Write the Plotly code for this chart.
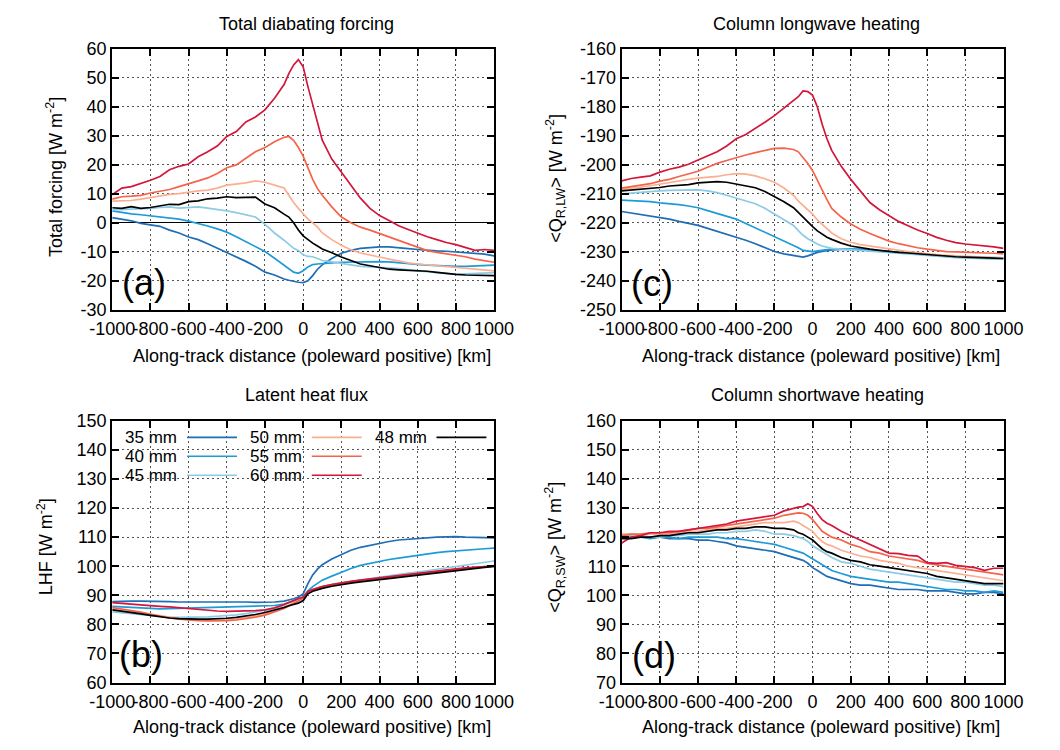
import plotly.graph_objects as go

# ---------------- data ----------------
X_KM = [-1000, -950, -900, -850, -800, -750, -700, -650, -600, -550, -500, -450, -400, -350, -300,
        -250, -200, -150, -100, -75, -50, -25, 0, 25, 50, 75, 100, 150, 200, 250, 300, 350, 400,
        450, 500, 550, 600, 650, 700, 750, 800, 850, 900, 950, 1000]

SERIES = ["35 mm", "40 mm", "45 mm", "50 mm", "55 mm", "60 mm", "48 mm"]
COLORS = ["#1f6db5", "#1e9bd6", "#8ccbe6", "#fcae91", "#f4634a", "#d2163c", "#000000"]

X_TICKS = [-1000, -800, -600, -400, -200, 0, 200, 400, 600, 800, 1000]
X_TICK_LABELS = ["-1000", "-800", "-600", "-400", "-200", "0", "200", "400", "600", "800", "1000"]

# (a) Total diabatic forcing
TOT_35 = [1.8, 1.2, 0.7, -0.2, -0.6, -1.2, -2.5, -3.5, -4.9, -5.8, -7.2, -8.7, -10.2, -11.8, -13.3, -15, -17, -18, -19.4,
          -19.8, -20.2, -20.5, -20.6, -20, -18.2, -16,
          -14.5, -12.3, -10.5, -9.5, -8.8, -8.5, -8.3, -8.3, -8.5, -8.9, -9.2, -9.5, -9.7, -9.8, -10, -10.2, -10.5, -10.8, -11.4]
TOT_40 = [4.1, 3.5, 3.1, 2.8, 2.4, 2.2, 1.8, 1.3, 0.6, -0.2, -1.1, -2.1, -3.2, -4.8, -6.5, -8.2, -9.9, -12.2, -14.6,
          -15.8, -17, -17.4, -16.5, -15.2, -14.4, -14.2,
          -14, -13.8, -13.6, -13.5, -13.5, -13.4, -13.4, -13.5, -13.7, -14, -14.3, -14.6, -14.8, -15, -15, -15, -14.9, -14.7, -14.6]
TOT_45 = [4.5, 4.6, 4.8, 5, 5, 5.3, 5.5, 5.1, 5.2, 5.5, 5.1, 4.7, 4.1, 3.5, 2.8, 2, -0.5, -3.5, -6,
          -7.5, -8.8, -9.5, -11, -11.6, -11.7, -12.3,
          -13, -13.5, -14, -14.5, -15, -15.2, -15.4, -15.5, -15.8, -16.2, -16.5, -16.8, -17.2, -17.5, -17.8, -17.6, -17.4, -17.2, -17.2]
TOT_50 = [7.5, 7.6, 7.7, 8.2, 8.8, 9.2, 9.8, 10.1, 10.6, 11, 11.3, 12, 13, 13.4, 13.8, 14.5, 14, 13, 12,
          9.5, 7, 5, 3, 1.3, 0, -1.5,
          -3.5, -5.8, -7.7, -9.3, -10.4, -11.2, -11.8, -12.5, -13.2, -13.8, -14.2, -14.5, -14.8, -15.1, -15.4, -15.7, -16, -16.3, -16.6]
TOT_55 = [8.2, 9, 9.2, 9.5, 10.3, 11, 11.5, 12.5, 13.6, 14.5, 15.5, 17, 19, 20, 22.3, 24.5, 26, 28, 29.5,
          29.8, 28.5, 26, 23, 19, 15, 11.8,
          9.5, 5.5, 2, 0, -1.5, -2.5, -3.7, -5, -6.2, -7.3, -8.6, -9.6, -10.2, -10.7, -11.1, -11.7, -12.5, -13, -13.6]
TOT_60 = [9.7, 12, 12.5, 13.5, 14.7, 16, 18.3, 19.5, 20.3, 22.8, 24.5, 26.5, 29.8, 31.5, 34.8, 36.5, 39, 43, 47.7,
          51.5, 54.5, 56.3, 53.8, 47, 40.5, 34,
          28.5, 22, 17.5, 13, 8.5, 5, 2.5, 0.8, -1, -2.3, -3.6, -4.8, -5.8, -6.8, -7.5, -8.5, -9.5, -9.2, -9.5]
TOT_48 = [5.2, 5, 5.6, 5, 5.3, 5.8, 6.4, 6.3, 7.3, 7.6, 8.3, 8.5, 9, 8.7, 8.7, 8.9, 6.5, 5.2, 3,
          2, 0, -2.5, -4.5, -5.8, -7, -8,
          -9, -10.3, -11.8, -13, -14.2, -14.8, -15.4, -16, -16.2, -16.3, -16.5, -16.7, -17.1, -17.5, -17.8, -18, -18.1, -18, -18.2]

# (b) Latent heat flux
LHF_35 = [87.8, 88, 88, 88, 88, 87.9, 87.8, 87.7, 87.7, 87.8, 87.8, 87.9, 87.9, 87.8, 87.7, 87.6, 87.6, 87.7, 88,
          88.3, 88.8, 89.4, 90.5, 94, 97, 99,
          100.5, 102.5, 104, 105.5, 106.5, 107.2, 108, 108.5, 109, 109.3, 109.5, 109.8, 110, 110.1, 110.2, 110, 110, 109.8, 109.7]
LHF_40 = [86.2, 86, 85.7, 85.5, 85.3, 85.3, 85.4, 85.5, 85.6, 85.6, 85.7, 85.8, 85.9, 86, 86.1, 86.2, 86.3, 86.5, 87,
          87.5, 88, 88.6, 89.5, 91.5, 93, 94.2,
          95.2, 96.6, 98, 99.2, 100.3, 101, 101.7, 102.3, 102.8, 103.3, 103.8, 104.3, 104.7, 105, 105.3, 105.5, 105.8, 106, 106.2]
LHF_45 = [84.3, 84, 83.7, 83.3, 83, 82.7, 82.5, 82.4, 82.4, 82.5, 82.6, 82.8, 83, 83.3, 83.7, 84.2, 84.8, 85.4, 86,
          86.5, 87, 87.4, 88, 90.5, 92, 92.5,
          93, 93.8, 94.3, 94.8, 95.2, 95.7, 96.2, 96.7, 97.2, 97.6, 98, 98.5, 99, 99.5, 100, 100.5, 101, 101.4, 101.8]
LHF_50 = [85.5, 85, 84.5, 84, 83.3, 82.8, 82.3, 82, 81.8, 81.6, 81.5, 81.5, 81.6, 81.8, 82.3, 82.9, 83.6, 84.6, 85.8,
          86.6, 87.4, 88.2, 89, 91, 91.8, 92.3,
          92.8, 93.5, 94.1, 94.6, 95, 95.4, 95.9, 96.3, 96.7, 97.1, 97.5, 97.9, 98.3, 98.6, 99, 99.3, 99.6, 99.9, 100.2]
LHF_55 = [85.8, 85.3, 84.8, 84.2, 83.5, 82.8, 82.2, 81.8, 81.5, 81.3, 81.2, 81.2, 81.3, 81.5, 81.9, 82.5, 83.2, 84.3, 85.5,
          86.3, 87.2, 88.2, 89, 91.2, 92, 92.5,
          93, 93.6, 94.2, 94.7, 95.1, 95.5, 95.9, 96.3, 96.7, 97.1, 97.5, 97.9, 98.2, 98.6, 98.9, 99.2, 99.5, 99.8, 100]
LHF_60 = [87.5, 87.2, 87, 86.7, 86.4, 86.2, 86, 85.7, 85.3, 85, 84.8, 84.6, 84.5, 84.5, 84.5, 84.7, 85, 85.7, 86.8,
          87.5, 88.3, 88.9, 89.3, 91.3, 92, 92.5,
          93, 93.7, 94.3, 94.8, 95.2, 95.6, 96, 96.4, 96.9, 97.3, 97.7, 98.1, 98.4, 98.8, 99.1, 99.4, 99.6, 99.8, 100]
LHF_48 = [85, 84.6, 84.1, 83.6, 83.1, 82.6, 82.2, 82, 81.8, 81.8, 81.8, 81.9, 82.1, 82.4, 82.8, 83.4, 84.1, 84.9, 85.8,
          86.4, 86.9, 87.3, 88.2, 90.5, 91.4, 91.9,
          92.4, 93.1, 93.7, 94.2, 94.6, 95, 95.4, 95.8, 96.2, 96.6, 97, 97.4, 97.8, 98.2, 98.5, 98.9, 99.2, 99.6, 99.9]

# (c) Column longwave heating
LW_35 = [-216.1, -216.6, -217.1, -217.5, -218.1, -218.7, -219.5, -220.2, -220.9, -221.9, -222.9, -223.8, -224.8, -226, -227.2, -228.6, -229.9, -230.7, -231.3,
         -231.5, -231.8, -231.4, -230.7, -230.2, -229.9, -229.6,
         -229.3, -229.2, -229.1, -229.2, -229.4, -229.7, -230, -230.3, -230.6, -230.9, -231.2, -231.4, -231.6, -231.8, -231.9, -232, -232.1, -232.2, -232.3]
LW_40 = [-212.2, -212.3, -212.4, -212.7, -213.1, -213.3, -213.7, -214.2, -214.8, -215.8, -216.7, -217.7, -218.7, -220.2, -221.7, -223.3, -224.8, -226.3, -227.6,
         -228.6, -229.5, -229.7, -229.9, -229.7, -229.5, -229.3,
         -229.1, -229, -229, -229.1, -229.3, -229.6, -229.9, -230.1, -230.4, -230.7, -231, -231.3, -231.6, -231.7, -231.8, -232, -232.1, -232.1, -232.1]
LW_45 = [-210, -209.7, -209.4, -209.2, -209, -208.8, -208.7, -208.6, -208.6, -209, -209.6, -210.5, -211.4, -212.3, -213.4, -215, -217, -219, -220.9,
         -222.7, -224.3, -225.5, -226.5, -227.3, -228, -228.5,
         -228.8, -229.1, -229.3, -229.5, -229.7, -230, -230.2, -230.5, -230.7, -231, -231.3, -231.6, -231.8, -232, -232.1, -232.3, -232.5, -232.5, -232.5]
LW_50 = [-208.5, -208.2, -207.7, -207.2, -206.6, -206, -205.5, -205, -204.6, -204.3, -204, -203.4, -203, -203.2, -203.8, -204.8, -206, -208, -210.5,
         -212.5, -214, -215.5, -217, -219, -220.5, -222,
         -223.5, -225.5, -226.7, -227.5, -228, -228.6, -229.1, -229.5, -229.9, -230.3, -230.7, -231, -231.2, -231.4, -231.6, -231.8, -231.9, -232, -232.1]
LW_55 = [-208, -207.5, -207, -206.5, -205.6, -205, -204, -203, -202.2, -200.8, -199.5, -198.5, -197.5, -196.6, -195.8, -195, -194.3, -194.2, -194.7,
         -195.5, -197.5, -199.5, -202, -205.5, -209, -212,
         -215, -218, -220.4, -222.2, -223.7, -225, -226.3, -227.2, -228, -228.6, -229.1, -229.5, -229.9, -230, -230.2, -230.3, -230.4, -230.5, -230.7]
LW_60 = [-205.5, -204.7, -204.2, -203.8, -202.5, -201.5, -200.8, -199.8, -198.3, -197, -195.5, -193.5, -191, -189.5, -187.5, -185.3, -183, -180.5, -178,
         -176.5, -174.5, -174.7, -176, -180, -186, -191,
         -195, -200.5, -205, -209, -213, -215.5, -217.5, -219.5, -221, -222.5, -223.7, -225, -226, -226.8, -227.3, -227.6, -228, -228.3, -228.8]
LW_48 = [-209, -208.7, -208.4, -208.3, -207.8, -207.3, -207, -206.8, -206.2, -206, -205.8, -206, -206.6, -207.2, -207.9, -209.2, -210.9, -212.7, -214.8,
         -216.5, -218.1, -219.8, -221.3, -222.8, -224, -225,
         -225.7, -227, -228, -228.6, -229.1, -229.5, -229.9, -230.2, -230.4, -230.7, -231, -231.3, -231.6, -231.7, -231.8, -232, -232.1, -232.2, -232.3]

# (d) Column shortwave heating
SW_35 = [120, 120, 120, 120, 120, 119.5, 119.5, 119.5, 119, 119, 118.5, 118, 117, 116.5, 116, 115.5, 115, 114, 113,
         112.5, 112, 111, 109.5, 108.5, 107.5, 106.5,
         106, 105, 104, 103.5, 103.5, 103, 102.5, 102, 102, 102, 101.5, 101.5, 101.5, 101, 100.5, 100.5, 101, 101, 100.5]
SW_40 = [120, 120, 120, 119.5, 120, 120, 119.5, 120, 120, 120, 120, 119.5, 119.5, 119, 118.5, 118, 117.5, 116.5, 115.5,
         115, 114.5, 113.5, 112.5, 111.5, 110.5, 109.5,
         108.5, 107.5, 106.5, 106, 105.5, 105, 104.5, 104.5, 104, 103.5, 103, 102.5, 102, 102, 101.5, 101.5, 101, 101.5, 101]
SW_45 = [120.5, 120.5, 120, 120, 120, 120.5, 120.5, 121, 121, 121, 121.5, 121.5, 122, 122, 122.5, 122, 121, 121, 120.5,
         120, 119.5, 118.5, 117, 116, 115, 114,
         113, 111.5, 111, 110, 109, 108.5, 108, 107.5, 107, 106.5, 106, 105.5, 105, 104.5, 104.5, 104, 103.5, 103.5, 103]
SW_50 = [121, 121, 120.5, 121, 121, 121, 121.5, 122, 122, 122.5, 123, 123, 123.5, 124, 124.5, 125, 125, 125, 125.5,
         125, 124, 123, 122, 120, 118.5, 117.5,
         117, 115.5, 114.5, 113.5, 113, 112, 111.5, 111, 110, 109.5, 109, 108.5, 108, 107.5, 107, 106.5, 106, 105.5, 105]
SW_55 = [120.5, 121, 121, 121.5, 121.5, 121.5, 122, 122.5, 123, 123, 123.5, 124, 124.5, 125, 125.5, 126, 126.5, 127.5, 128,
         128.3, 128.2, 127.5, 126, 124, 122, 121,
         120, 119, 117.5, 116.5, 115, 114.5, 113.5, 113, 112.5, 112, 111, 110.5, 110, 109.5, 109, 108.5, 108, 107.5, 107]
SW_60 = [118, 120, 120.5, 121.5, 121.5, 122, 122, 122.5, 123, 123.5, 124, 124.5, 125.5, 126, 126.5, 127, 127.5, 129, 130,
         130.3, 130.5, 131.5, 130.5, 128, 126, 124.8,
         124, 122, 120.5, 119, 117.5, 116, 114.5, 114.3, 113.7, 113.5, 111.2, 111, 111.2, 110.3, 109.8, 109.5, 108.6, 109.3, 109.3]
SW_48 = [119.5, 119.5, 120, 120, 120.5, 120.5, 121, 121.5, 121.5, 122, 122.5, 122.5, 123, 123, 123.5, 123.5, 123, 123, 122.5,
         121.5, 121, 120, 119, 117.5, 116, 115,
         114.5, 113, 112, 111.5, 110.5, 110, 109.5, 109, 108.5, 108, 107.5, 106.5, 106, 105.5, 105, 104.5, 104, 104, 104]

PANELS = [
    # key, series list, y range, title, y title, letter
    ("a", [TOT_35, TOT_40, TOT_45, TOT_50, TOT_55, TOT_60, TOT_48], [-30, 60], "Total diabating forcing",
     "Total forcing [W m<sup>-2</sup>]", "(a)"),
    ("c", [LW_35, LW_40, LW_45, LW_50, LW_55, LW_60, LW_48], [-250, -160], "Column longwave heating",
     "&lt;Q<sub>R,LW</sub>&gt; [W m<sup>-2</sup>]", "(c)"),
    ("b", [LHF_35, LHF_40, LHF_45, LHF_50, LHF_55, LHF_60, LHF_48], [60, 150], "Latent heat flux",
     "LHF [W m<sup>-2</sup>]", "(b)"),
    ("d", [SW_35, SW_40, SW_45, SW_50, SW_55, SW_60, SW_48], [70, 160], "Column shortwave heating",
     "&lt;Q<sub>R,SW</sub>&gt; [W m<sup>-2</sup>]", "(d)"),
]

# ---------------- layout geometry (pixels of a 1060x750 canvas) ----------------
W, H = 1060, 750
def px(x):
    return x / W
def py(y):
    return 1 - y / H

BOXES = {  # left, right, top, bottom
    "a": (93, 491, 40, 308),
    "c": (624, 1022, 40, 308),
    "b": (93, 491, 422, 691),
    "d": (624, 1022, 422, 691),
}
TITLE_POS = {"a": (295, 14), "c": (827, 14), "b": (295, 396), "d": (828, 396)}
XTITLE_POS = {"a": (301, 355), "c": (832, 355), "b": (301, 737), "d": (832, 737)}
YTITLE_POS = {"a": (33, 172), "c": (555, 173), "b": (23, 552), "d": (554, 552)}
LETTER_POS = {"a": (126, 280), "c": (656, 281), "b": (123, 662), "d": (658, 663)}

FONT = "Liberation Sans, Arial, Helvetica, sans-serif"
FS = 18
LEG_FS = 17

fig = go.Figure()
annotations = []
shapes = []
layout_axes = {}

for i, (key, series, yr, title, ytitle, letter) in enumerate(PANELS):
    n = "" if i == 0 else str(i + 1)
    xa, ya = "x" + n, "y" + n
    for name, col, ys in zip(SERIES, COLORS, series):
        assert len(ys) == len(X_KM)
        fig.add_trace(go.Scatter(x=X_KM, y=ys, mode="lines", name=name, showlegend=False,
                                 line=dict(color=col, width=1.7), xaxis=xa, yaxis=ya))
    l, r, t, b = BOXES[key]
    yt = list(range(yr[0], yr[1] + 1, 10))
    common = dict(showline=True, linecolor="black", linewidth=2, mirror="ticks", ticks="inside",
                  ticklen=7, tickwidth=1.5, tickcolor="black", showgrid=True, gridcolor="#555555",
                  griddash="2px,3px", gridwidth=1,
                  tickfont=dict(family=FONT, size=FS, color="black"))
    layout_axes["xaxis" + n] = dict(domain=[px(l), px(r)], range=[-1000, 1000], anchor=ya,
                                    tickvals=X_TICKS, ticktext=X_TICK_LABELS, tickangle=0,
                                    ticklabelstandoff=2, zeroline=False, **common)
    layout_axes["yaxis" + n] = dict(domain=[py(b), py(t)], range=yr, anchor=xa,
                                    tickvals=yt, ticktext=[str(v) for v in yt],
                                    zeroline=(yr[0] < 0 < yr[1]), zerolinecolor="black", zerolinewidth=1,
                                    **common)
    tx, ty = TITLE_POS[key]
    annotations.append(dict(text=title, x=px(tx), y=py(ty), xref="paper", yref="paper",
                            showarrow=False, xanchor="center", yanchor="middle",
                            font=dict(family=FONT, size=FS, color="black")))
    tx, ty = XTITLE_POS[key]
    annotations.append(dict(text="Along-track distance (poleward positive) [km]", x=px(tx), y=py(ty),
                            xref="paper", yref="paper", showarrow=False, xanchor="center",
                            yanchor="middle", font=dict(family=FONT, size=FS, color="black")))
    tx, ty = YTITLE_POS[key]
    annotations.append(dict(text=ytitle, x=px(tx), y=py(ty), xref="paper", yref="paper",
                            showarrow=False, textangle=-90, xanchor="center", yanchor="middle",
                            font=dict(family=FONT, size=FS, color="black")))
    tx, ty = LETTER_POS[key]
    annotations.append(dict(text=letter, x=px(tx), y=py(ty), xref="paper", yref="paper",
                            showarrow=False, xanchor="center", yanchor="middle",
                            font=dict(family=FONT, size=36, color="black")))

# legend inside panel (b): gnuplot style, text then line sample, 3 columns
LEG_TEXT_RIGHT = [162, 292, 422]
LEG_LINE_X = [(171, 223), (301, 353), (431, 483)]
LEG_ROWS = [439, 458.5, 478]
for k, (name, col) in enumerate(zip(SERIES, COLORS)):
    c, rrow = (k // 3, k % 3) if k < 6 else (2, 0)
    y = LEG_ROWS[rrow]
    annotations.append(dict(text=name, x=px(LEG_TEXT_RIGHT[c]), y=py(y), xref="paper", yref="paper",
                            showarrow=False, xanchor="right", yanchor="middle", borderpad=0,
                            font=dict(family=FONT, size=LEG_FS, color="black")))
    x0, x1 = LEG_LINE_X[c]
    shapes.append(dict(type="line", xref="paper", yref="paper", x0=px(x0), x1=px(x1),
                       y0=py(y), y1=py(y), line=dict(color=col, width=1.7)))

fig.update_layout(width=W, height=H, margin=dict(l=0, r=0, t=0, b=0),
                  paper_bgcolor="white", plot_bgcolor="white",
                  annotations=annotations, shapes=shapes, **layout_axes)

fig.write_html("out.html")
